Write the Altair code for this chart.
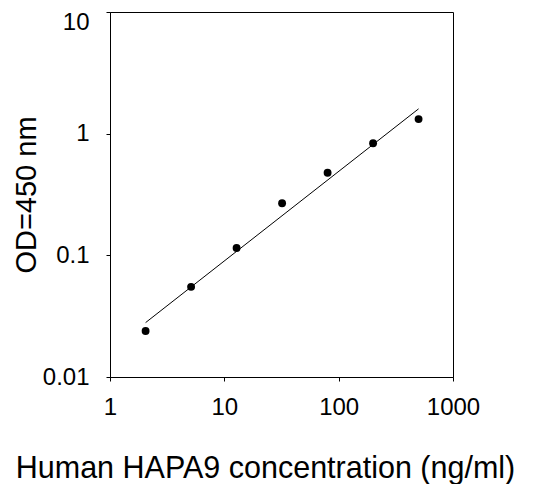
import altair as alt
import pandas as pd

# Standard curve data
conc = [2.048, 5.12, 12.8, 32, 80, 200, 500]
od = [0.0239, 0.0551, 0.1148, 0.268, 0.477, 0.834, 1.318]

# Fitted line end points (log-log straight line)
fit_conc = [2.048, 500]
fit_od = [0.028, 1.60]

x_ticks = [1, 10, 100, 1000]
y_ticks = [0.01, 0.1, 1, 10]

pts = pd.DataFrame({"conc": conc, "od": od})
fit = pd.DataFrame({"conc": fit_conc, "od": fit_od})

FONT = "Liberation Sans"

xscale = alt.Scale(type="log", domain=[1, 1000], nice=False)
yscale = alt.Scale(type="log", domain=[0.01, 10], nice=False)

xaxis = alt.Axis(
    values=x_ticks, format="~g", title="Human HAPA9 concentration (ng/ml)",
    grid=False, tickSize=4, labelPadding=14, labelFontSize=24, labelFont=FONT,
    labelColor="black", titleFont=FONT, titleFontSize=30.5, titleFontWeight="normal",
    titleColor="black", titleBaseline="alphabetic", titleY=100, titleX=155,
    titleAnchor="start", titleAlign="center",
    domainColor="black", tickColor="black", labelFlush=False, labelOverlap=False,
)
yaxis = alt.Axis(
    values=y_ticks, format="~g", title="OD=450 nm",
    grid=False, tickSize=4, labelPadding=17, labelFontSize=24, labelFont=FONT,
    labelColor="black", titleFont=FONT, titleFontSize=29, titleFontWeight="normal",
    titleColor="black", titleBaseline="alphabetic", titleX=-75,
    labelOffset={"expr": "datum.value >= 10 ? 10.5 : 0"},
    domainColor="black", tickColor="black", labelFlush=False, labelOverlap=False,
)

line = alt.Chart(fit).mark_line(color="black", strokeWidth=1).encode(
    x=alt.X("conc:Q", scale=xscale, axis=xaxis),
    y=alt.Y("od:Q", scale=yscale, axis=yaxis),
)
points = alt.Chart(pts).mark_circle(size=62, color="black", opacity=1).encode(
    x=alt.X("conc:Q", scale=xscale, axis=xaxis),
    y=alt.Y("od:Q", scale=yscale, axis=yaxis),
)

chart = (
    alt.layer(line, points)
    .properties(
        width=343, height=365,
        autosize=alt.AutoSizeParams(type="none"),
        padding={"left": 102, "top": 4, "right": 88, "bottom": 107},
        background="white",
    )
    .configure_view(stroke="black", strokeWidth=1)
)

chart.save("out.html", embed_options={"renderer": "svg", "actions": False})
